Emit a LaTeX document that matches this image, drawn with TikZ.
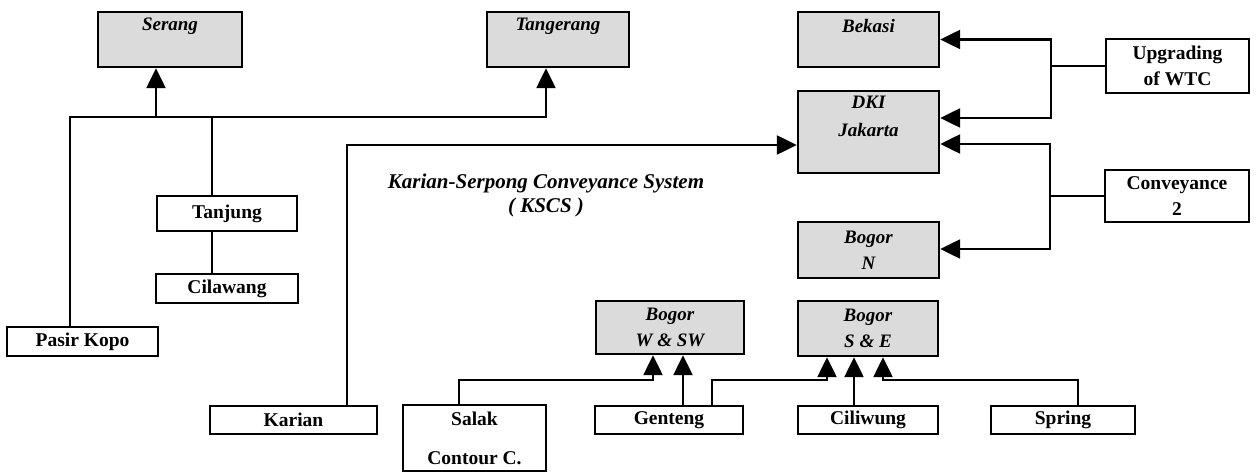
\documentclass[tikz,border=0pt]{standalone}
\usepackage{fontspec}
\setmainfont{Liberation Serif}
\usetikzlibrary{arrows.meta}
\tikzset{
  box/.style={draw, line width=2.4pt, inner sep=0pt, align=center,
    font=\bfseries\fontsize{19.5}{26}\selectfont},
  shaded/.style={box, fill=gray!28, font=\bfseries\itshape\fontsize{19}{26}\selectfont},
  ilbl/.style={inner sep=0pt, align=center, font=\bfseries\itshape\fontsize{19}{28}\selectfont},
  conn/.style={line width=2.4pt, line cap=rect},
  arr/.style={conn, -{Triangle[length=20pt,width=19pt]}},
}
\begin{document}
\begin{tikzpicture}[x=1pt,y=-1pt]
\useasboundingbox (0,0) rectangle (1259,476);
% demand boxes (shaded)
\node[shaded, minimum width=144pt, minimum height=55pt] (serang) at (170,39.5) {};
\node[ilbl] (serangT) at (170,26) {Serang};
\node[shaded, minimum width=142pt, minimum height=55pt] (tang) at (558,39.5) {};
\node[ilbl] (tangT) at (558,26) {Tangerang};
\node[shaded, minimum width=141pt, minimum height=55pt] (bekasi) at (868.5,39.5) {};
\node[ilbl] (bekasiT) at (868.5,26) {Bekasi};
\node[shaded, minimum width=141pt, minimum height=82pt] (dki) at (868.5,132) {};
\node[ilbl] (dkiT) at (868.5,116) {DKI\\Jakarta};
\node[shaded, minimum width=141pt, minimum height=56pt] (bogorN) at (868.5,250) {Bogor\\N};
\node[shaded, minimum width=148pt, minimum height=53pt] (bogorW) at (670,327.5) {Bogor\\W \& SW};
\node[shaded, minimum width=140pt, minimum height=55pt] (bogorS) at (868,328.5) {Bogor\\S \& E};
% source boxes
\node[box, minimum width=143pt, minimum height=54pt] (upg) at (1177.5,66) {Upgrading\\of WTC};
\node[box, minimum width=144pt, minimum height=52pt] (conv) at (1177,196) {Conveyance\\2};
\node[box, minimum width=140pt, minimum height=35pt] (tanjung) at (227,213.5) {Tanjung};
\node[box, minimum width=142pt, minimum height=29pt] (cilawang) at (227,288.5) {Cilawang};
\node[box, minimum width=151pt, minimum height=29pt] (pasir) at (82.5,341.5) {Pasir Kopo};
\node[box, minimum width=167pt, minimum height=28pt] (karian) at (293.5,420) {Karian};
\node[box, minimum width=143pt, minimum height=66pt, font=\bfseries\fontsize{19.5}{39}\selectfont] (salak) at (474.5,438) {Salak\\Contour C.};
\node[box, minimum width=148pt, minimum height=28pt] (genteng) at (669,420) {Genteng};
\node[box, minimum width=140pt, minimum height=28pt] (ciliwung) at (868,420) {Ciliwung};
\node[box, minimum width=144pt, minimum height=28pt] (spring) at (1063,420) {Spring};
% title
\node[ilbl, font=\bfseries\itshape\fontsize{21}{24}\selectfont] (title) at (546,195) {Karian-Serpong Conveyance System\\( KSCS )};
% western bus
\coordinate (b1) at (70,117);
\coordinate (b2) at (546,117);
\draw[arr] (pasir.north -| b1) -- (b1) -- (b2) -- (b2 |- tang.south);
\draw[arr] ([xshift=-14pt]serang.south |- b1) -- ([xshift=-14pt]serang.south);
\draw[conn] ([xshift=-15pt]tanjung.north |- b1) -- ([xshift=-15pt]tanjung.north);
\draw[conn] ([xshift=-15pt]tanjung.south) -- ([xshift=-15pt]tanjung.south |- cilawang.north);
% Karian to DKI
\draw[arr] ([xshift=53.5pt]karian.north) |- ([yshift=-13pt]dki.west);
% Upgrading of WTC
\coordinate (vu) at (1051,66);
\draw[conn] (upg.west) -- (vu);
\draw[arr] (vu |- 0,118) -- (vu |- bekasi.east) -- (bekasi.east);
\draw[arr] (vu |- bekasi.east) -- (vu |- 0,118) -- ([yshift=14pt]dki.east);
% Conveyance 2
\coordinate (vc) at (1050,196);
\draw[conn] (conv.west) -- (vc);
\draw[arr] (vc |- 0,249) -- (vc |- 0,144) -- ([yshift=-12pt]dki.east);
\draw[arr] (vc |- 0,144) -- (vc |- 0,249) -- ([yshift=1pt]bogorN.east);
% southern connectors
\coordinate (bs) at (0,380);
\draw[arr] ([xshift=-15.5pt]salak.north) |- ([xshift=-17pt]bogorW.south |- bs) -- ([xshift=-17pt]bogorW.south);
\draw[arr] ([xshift=14pt]genteng.north) -- ([xshift=14pt]genteng.north |- bogorW.south);
\draw[arr] ([xshift=43pt]genteng.north) |- ([xshift=-41pt]bogorS.south |- bs) -- ([xshift=-41pt]bogorS.south);
\draw[arr] ([xshift=-14pt]ciliwung.north) -- ([xshift=-14pt]ciliwung.north |- bogorS.south);
\draw[arr] ([xshift=15pt]spring.north) |- ([xshift=15pt]bogorS.south |- bs) -- ([xshift=15pt]bogorS.south);
\end{tikzpicture}
\end{document}
